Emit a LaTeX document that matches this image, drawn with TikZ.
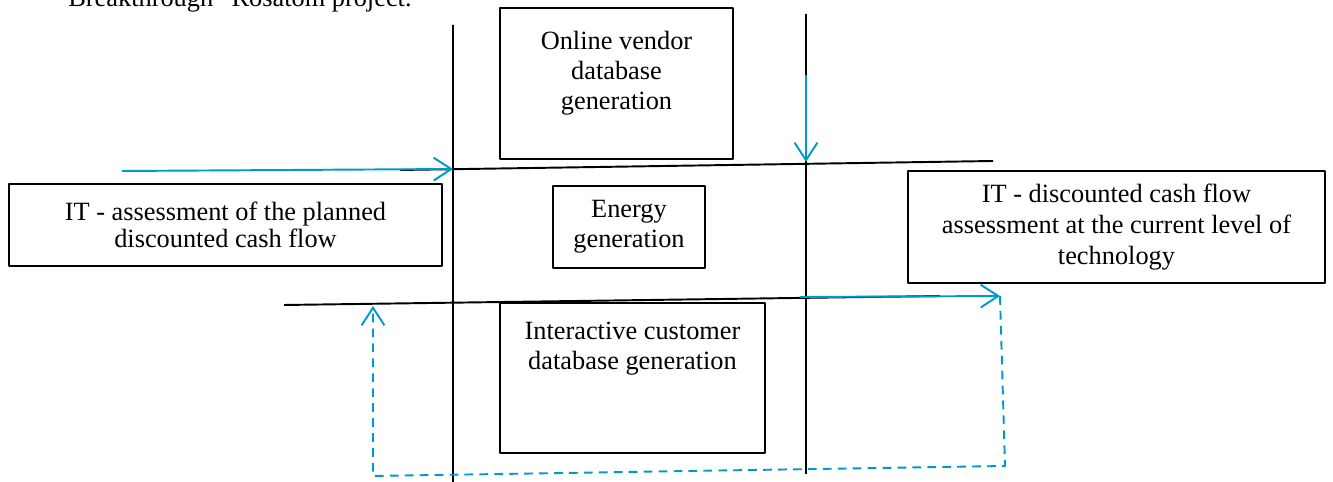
\documentclass[tikz,border=0pt]{standalone}
\usepackage{fontspec}
\setmainfont{Liberation Serif}
\usetikzlibrary{arrows.meta,positioning}
\definecolor{flowblue}{RGB}{0,153,204}
\begin{document}
\begin{tikzpicture}[x=0.02cm, y=-0.02cm, line join=round, font=\fontsize{15}{17}\selectfont, >={Straight Barb[length=10pt,width=13pt]},
	box/.style={draw, line width=1.1pt, inner sep=0pt, align=center},
	axis/.style={line width=1.1pt},
	flow/.style={flowblue, line width=1.1pt},
	back/.style={flowblue, line width=1.1pt, dash pattern=on 5pt off 3.5pt}]
	\useasboundingbox (0,0) rectangle (1333,482);
	\node[anchor=base west, inner sep=0pt] (caption) at (68,7) {Breakthrough'' Rosatom project.};
	% boxes
	\node[box, minimum width=4.66cm, minimum height=3.02cm] (vendor) at (616.5,83.5) {};
	\node[below=13.5pt of vendor.north, align=center, inner sep=0pt] (vendortxt) {Online vendor\\database\\generation};
	\node[box, minimum width=8.66cm, minimum height=1.64cm, font=\fontsize{15}{15.5}\selectfont] (planned) at (225.5,225) {IT - assessment of the planned\\discounted cash flow};
	\node[box, minimum width=3.04cm, minimum height=1.64cm] (energy) at (629,227) {Energy\\generation};
	\node[box, minimum width=8.34cm, minimum height=2.24cm, font=\fontsize{15}{17.5}\selectfont] (current) at (1116.5,227) {IT - discounted cash flow\\assessment at the current level of\\technology};
	\node[box, minimum width=5.3cm, minimum height=3cm] (customer) at (632.5,378) {};
	\node[below=11pt of customer.north, align=center, inner sep=0pt] (customertxt) {Interactive customer\\database generation};
	% axes
	\coordinate (vla) at (453,25); \coordinate (vlb) at (453,482);
	\coordinate (vra) at (806,14); \coordinate (vrb) at (806,474);
	\coordinate (hta) at (400,170); \coordinate (htb) at (993,161);
	\coordinate (hba) at (284,305); \coordinate (hbb) at (940,296);
	\draw[axis] (vla)--(vlb) (vra)--(vrb) (hta)--(htb) (hba)--(hbb);
	% flows
	\coordinate (ina) at (122,171); \coordinate (inb) at (453,169);
	\coordinate (dna) at (806,75); \coordinate (dnb) at (806,162);
	\coordinate (outa) at (800,297); \coordinate (outb) at (1000,296);
	\coordinate (ra) at (1005,466); \coordinate (la) at (373,476); \coordinate (lb) at (373,306);
	\draw[flow,->] (ina)--(inb);
	\draw[flow,->] (dna)--(dnb);
	\draw[flow,->] (outa)--(outb);
	\draw[back,->] (outb)--(ra)--(la)--(lb);
\end{tikzpicture}
\end{document}
